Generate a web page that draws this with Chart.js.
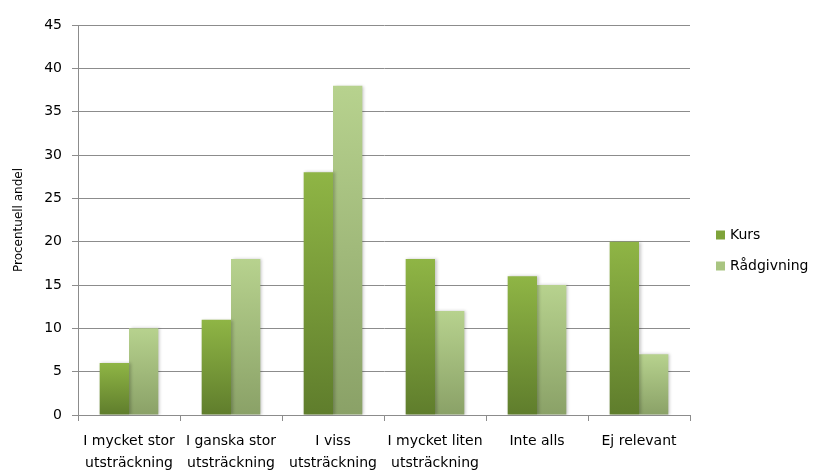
<!DOCTYPE html>
<html>
<head>
<meta charset="utf-8">
<script src="https://cdn.jsdelivr.net/npm/chart.js@4"></script>
<style>
  html, body { margin: 0; padding: 0; background: #fff; }
  #wrap { width: 813px; height: 472px; position: relative; }
</style>
</head>
<body>
<div id="wrap"><canvas id="c" width="813" height="472"></canvas></div>
<script>
const categories = [
  ['I mycket stor', 'utsträckning'],
  ['I ganska stor', 'utsträckning'],
  ['I viss', 'utsträckning'],
  ['I mycket liten', 'utsträckning'],
  'Inte alls',
  'Ej relevant'
];
const kurs = [6, 11, 28, 18, 16, 20];
const radgivning = [10, 18, 38, 12, 15, 7];
const seriesNames = ['Kurs', 'Rådgivning'];
const yTicks = [0, 5, 10, 15, 20, 25, 30, 35, 40, 45];
const yTitle = 'Procentuell andel';

const FONT = "'DejaVu Sans', sans-serif";

function barGradient(top, bottom) {
  return function (ctx) {
    const chart = ctx.chart;
    if (!chart.chartArea || ctx.type !== 'data') return top;
    const y = chart.scales.y;
    const v = ctx.raw;
    const yTop = y.getPixelForValue(v);
    const yBot = y.getPixelForValue(0);
    if (!isFinite(yTop) || !isFinite(yBot) || yTop === yBot) return top;
    const g = chart.ctx.createLinearGradient(0, yTop, 0, yBot);
    g.addColorStop(0, top);
    g.addColorStop(1, bottom);
    return g;
  };
}

const shadowPlugin = {
  id: 'barShadow',
  beforeDatasetsDraw(chart) {
    const c = chart.ctx;
    c.save();
    c.shadowColor = 'rgba(0,0,0,0.22)';
    c.shadowBlur = 3;
    c.shadowOffsetX = 1.5;
    c.shadowOffsetY = 0;
  },
  afterDatasetsDraw(chart) {
    chart.ctx.restore();
  }
};

const legendColors = ['#7ea33a', '#a9c581'];
const legendPlugin = {
  id: 'sideLegend',
  afterDraw(chart) {
    const c = chart.ctx;
    c.save();
    c.font = '14px ' + FONT;
    c.textBaseline = 'middle';
    c.textAlign = 'left';
    const ys = [235, 266];
    seriesNames.forEach((name, i) => {
      c.fillStyle = legendColors[i];
      c.fillRect(716, ys[i] - 4.5, 9, 9);
      c.fillStyle = '#000';
      c.fillText(name, 730, ys[i]);
    });
    c.restore();
  }
};

new Chart(document.getElementById('c'), {
  type: 'bar',
  data: {
    labels: categories,
    datasets: [
      {
        label: seriesNames[0],
        data: kurs,
        backgroundColor: barGradient('#8fb545', '#5f7d2c'),
        borderWidth: 0,
        categoryPercentage: 0.575,
        barPercentage: 1.0
      },
      {
        label: seriesNames[1],
        data: radgivning,
        backgroundColor: barGradient('#b7d28e', '#8aa167'),
        borderWidth: 0,
        categoryPercentage: 0.575,
        barPercentage: 1.0
      }
    ]
  },
  options: {
    responsive: false,
    animation: false,
    devicePixelRatio: 1,
    layout: { padding: { left: 12, top: 25, right: 123, bottom: 0 } },
    plugins: {
      legend: { display: false },
      tooltip: { enabled: false },
      title: { display: false }
    },
    scales: {
      x: {
        grid: {
          display: true,
          offset: true,
          drawOnChartArea: false,
          drawTicks: true,
          tickLength: 6,
          color: '#8c8c8c'
        },
        border: { display: true, color: '#8c8c8c', width: 1 },
        ticks: {
          font: { family: FONT, size: 14, lineHeight: 1.55 },
          color: '#000',
          padding: 10,
          maxRotation: 0,
          autoSkip: false
        },
        afterFit(scale) { scale.height = 57; }
      },
      y: {
        min: 0,
        max: 45,
        afterBuildTicks(scale) { scale.ticks = yTicks.map(v => ({ value: v })); },
        grid: {
          color: '#8c8c8c',
          drawTicks: true,
          tickLength: 6
        },
        border: { display: true, color: '#8c8c8c', width: 1 },
        ticks: {
          font: { family: FONT, size: 14 },
          color: '#000',
          padding: 10
        },
        title: {
          display: true,
          text: yTitle,
          font: { family: FONT, size: 12 },
          color: '#000',
          padding: { top: 0, bottom: 0 }
        },
        afterFit(scale) { scale.width = 66; }
      }
    }
  },
  plugins: [shadowPlugin, legendPlugin]
});
</script>
</body>
</html>
